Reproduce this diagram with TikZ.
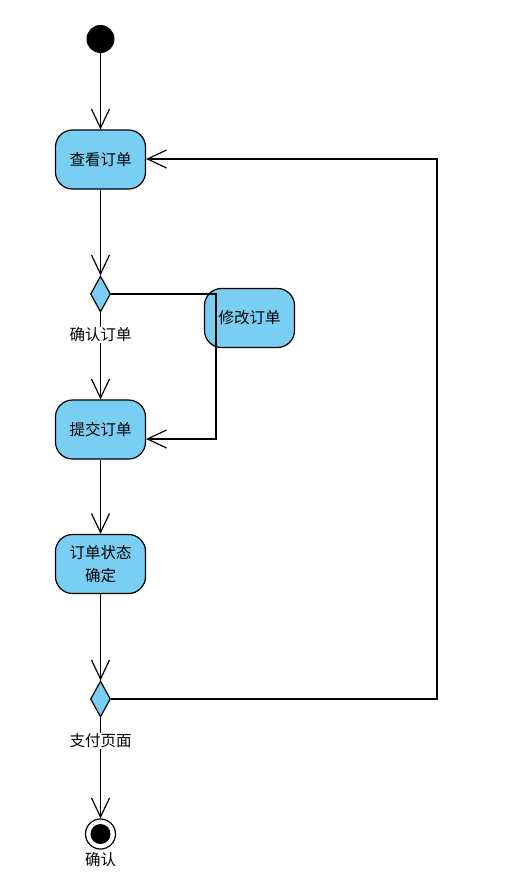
\documentclass[tikz,border=0pt]{standalone}
\usepackage{fontspec}
\newfontfamily\cjk{Noto Sans CJK SC}[Scale=1]
\usetikzlibrary{arrows.meta,shapes.geometric}
\definecolor{actblue}{RGB}{120,206,243}
\begin{document}
\begin{tikzpicture}[x=1pt,y=-1pt,
  font=\cjk\fontsize{15.5}{23}\selectfont,
  act/.style={draw=black,fill=actblue,rounded corners=17pt,line width=1.2pt,minimum width=90pt,minimum height=59pt,inner sep=0pt,align=center},
  dec/.style={draw=black,fill=actblue,diamond,line width=1.2pt,minimum width=20pt,minimum height=36pt,inner sep=0pt,aspect=0.55},
  lbl/.style={inner sep=1pt,fill=white},
  flow/.style={line width=1.3pt,-{Straight Barb[length=19pt,width=18pt,line width=1.2pt]}},
  edge/.style={line width=1.3pt}]
\useasboundingbox (0,0) rectangle (516,875);
\node[circle,fill=black,minimum size=28pt,inner sep=0pt] (start) at (100.5,39) {};
\node[act] (view) at (100.5,159.5) {查看订单};
\node[dec] (d1) at (100.5,294) {};
\node[lbl] (l1) at (100.5,335) {确认订单};
\node[act] (modify) at (249.5,318) {修改订单};
\node[act] (submit) at (100.5,429.5) {提交订单};
\node[act] (state) at (100.5,564) {订单状态\\确定};
\node[dec] (d2) at (100.5,699) {};
\node[lbl] (l2) at (100.5,741) {支付页面};
\node[circle,draw=black,line width=1.2pt,fill=white,minimum size=30pt,inner sep=0pt] (end) at (100.5,834) {};
\node[circle,fill=black,minimum size=20pt,inner sep=0pt] (endin) at (end.center) {};
\node[inner sep=1pt] (l3) at (100.5,860) {确认};
\coordinate (c1) at (216,294);
\coordinate (c2) at (216,439);
\coordinate (c3) at (437,699);
\coordinate (c4) at (437,159);
\draw[flow] (start.south) -- (view.north);
\draw[flow] (view.south) -- (d1.north);
\draw[edge] (d1.south) -- (l1.north);
\draw[flow] (l1.south) -- (submit.north);
\draw[flow] (d1.east) -- (c1) -- (c2) -- (submit.east |- c2);
\draw[flow] (submit.south) -- (state.north);
\draw[flow] (state.south) -- (d2.north);
\draw[edge] (d2.south) -- (l2.north);
\draw[flow] (l2.south) -- (end.north);
\draw[flow] (d2.east) -- (c3) -- (c4) -- (view.east |- c4);
\end{tikzpicture}
\end{document}
